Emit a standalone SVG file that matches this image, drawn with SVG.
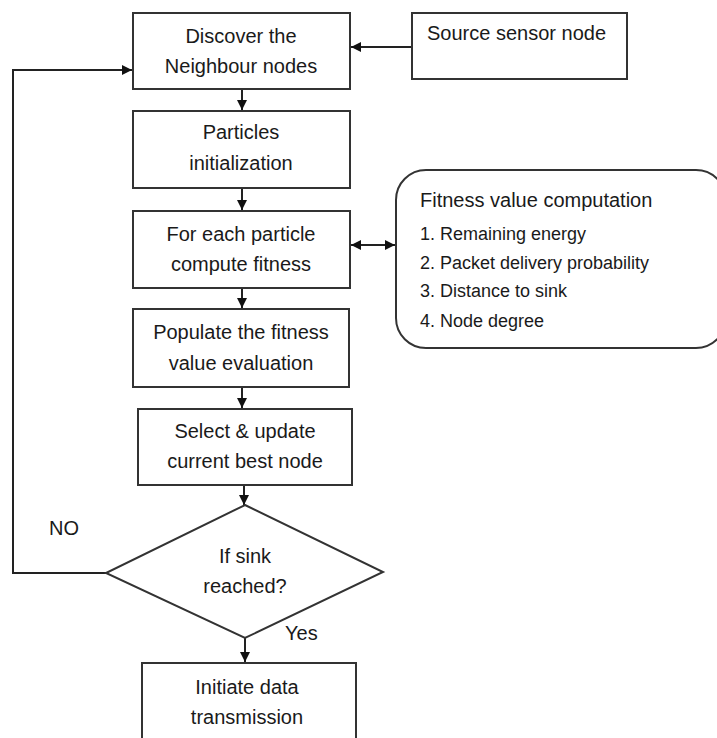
<svg xmlns="http://www.w3.org/2000/svg" width="717" height="738" viewBox="0 0 717 738">
<style>
.box{fill:#fff;stroke:#333;stroke-width:2}
.t{font-family:"Liberation Sans",Arial,sans-serif;font-size:20px;fill:#1a1a1a;text-anchor:middle}
.tl{font-family:"Liberation Sans",Arial,sans-serif;font-size:20px;fill:#1a1a1a}
.li{font-family:"Liberation Sans",Arial,sans-serif;font-size:18px;fill:#1a1a1a}
.c{fill:none;stroke:#222;stroke-width:2}
</style>
<defs>
<marker id="ah" viewBox="0 0 10 10" refX="10" refY="5" markerWidth="10" markerHeight="10" markerUnits="userSpaceOnUse" orient="auto-start-reverse">
<path d="M0,0 L10,5 L0,10 z" fill="#111"/>
</marker>
</defs>
<rect width="717" height="738" fill="#fff"/>
<g id="connectors">
<line class="c" x1="412" y1="47" x2="351" y2="47" marker-end="url(#ah)"/>
<line class="c" x1="242" y1="89" x2="242" y2="110" marker-end="url(#ah)"/>
<line class="c" x1="242" y1="188" x2="242" y2="210" marker-end="url(#ah)"/>
<line class="c" x1="351" y1="245" x2="395" y2="245" marker-start="url(#ah)" marker-end="url(#ah)"/>
<line class="c" x1="242" y1="288" x2="242" y2="308" marker-end="url(#ah)"/>
<line class="c" x1="242" y1="387" x2="242" y2="408" marker-end="url(#ah)"/>
<line class="c" x1="244" y1="485" x2="244" y2="505" marker-end="url(#ah)"/>
<polyline class="c" points="106,573 13,573 13,70 132,70" marker-end="url(#ah)"/>
<line class="c" x1="245" y1="638" x2="245" y2="662" marker-end="url(#ah)"/>
<text class="tl" x="49" y="535">NO</text>
<text class="tl" x="285" y="640">Yes</text>
</g>
<g id="n_discover">
<rect class="box" x="133" y="13" width="217" height="76"/>
<text class="t" x="241" y="43">Discover the</text>
<text class="t" x="241" y="73">Neighbour nodes</text>
</g>
<g id="n_source">
<rect class="box" x="412" y="13" width="215" height="66"/>
<text class="tl" x="427" y="40">Source sensor node</text>
</g>
<g id="n_particles">
<rect class="box" x="133" y="111" width="217" height="77"/>
<text class="t" x="241" y="139">Particles</text>
<text class="t" x="241" y="170">initialization</text>
</g>
<g id="n_compute">
<rect class="box" x="133" y="211" width="217" height="77"/>
<text class="t" x="241" y="241">For each particle</text>
<text class="t" x="241" y="271">compute fitness</text>
</g>
<g id="n_fitness">
<rect class="box" x="396" y="170" width="330" height="178" rx="30" ry="30"/>
<text class="tl" x="420" y="207">Fitness value computation</text>
<text class="li" x="420" y="240">1. Remaining energy</text>
<text class="li" x="420" y="269">2. Packet delivery probability</text>
<text class="li" x="420" y="297">3. Distance to sink</text>
<text class="li" x="420" y="327">4. Node degree</text>
</g>
<g id="n_populate">
<rect class="box" x="133" y="309" width="216" height="78"/>
<text class="t" x="241" y="339">Populate the fitness</text>
<text class="t" x="241" y="370">value evaluation</text>
</g>
<g id="n_select">
<rect class="box" x="138" y="409" width="214" height="76"/>
<text class="t" x="245" y="438">Select &amp; update</text>
<text class="t" x="245" y="468">current best node</text>
</g>
<g id="n_sink">
<polygon class="box" points="245,505 383,572 245,638 106,573"/>
<text class="t" x="245" y="563">If sink</text>
<text class="t" x="245" y="593">reached?</text>
</g>
<g id="n_initiate">
<rect class="box" x="142" y="663" width="214" height="90"/>
<text class="t" x="247" y="694">Initiate data</text>
<text class="t" x="247" y="724">transmission</text>
</g>
</svg>
